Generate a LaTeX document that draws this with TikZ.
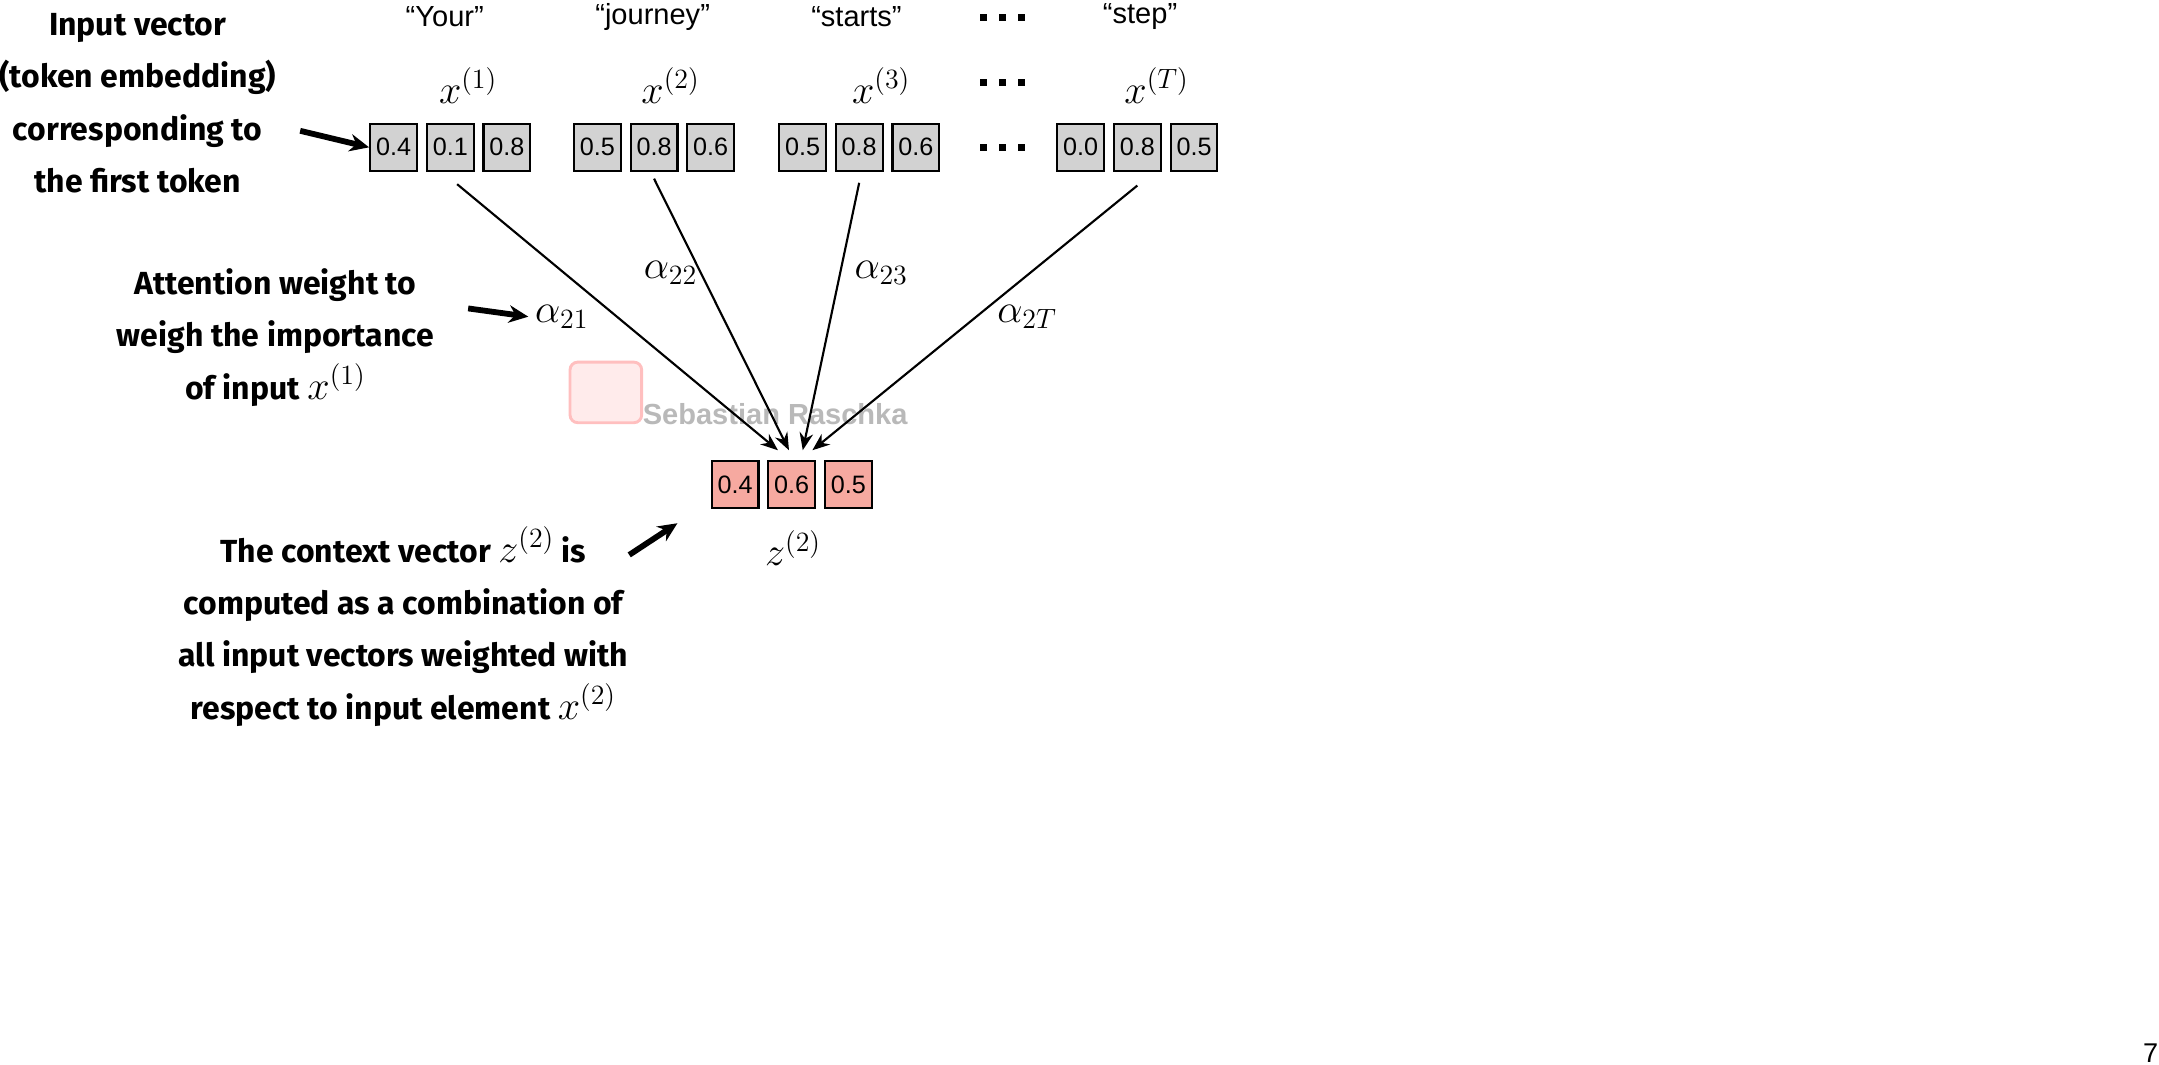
\documentclass[tikz,border=0pt]{standalone}
\usepackage{amsmath}
\usepackage{fontspec}
\setsansfont{Liberation Sans}
\newfontfamily\notefont{Fira Sans}
\usetikzlibrary{positioning}
\definecolor{salmon}{HTML}{F6A9A0}

\tikzset{
  cell/.style={draw, line width=1.1pt, minimum width=0.85cm, minimum height=0.85cm,
    inner sep=0pt, font=\sffamily\fontsize{13}{13}\selectfont},
  incell/.style={cell, fill=gray!35},
  outcell/.style={cell, fill=salmon},
  word/.style={font=\sffamily\fontsize{15}{15}\selectfont},
  vlabel/.style={font=\fontsize{22}{22}\selectfont},
  note/.style={align=center, font=\notefont\bfseries\fontsize{16.5}{27}\selectfont},
  dot/.style={fill, minimum size=0.13cm, inner sep=0pt},
  ptr/.style={-{Stealth[length=9pt,width=7pt]}, line width=1.1pt},
  wptr/.style={-{Stealth[length=10pt,width=9pt]}, line width=3pt}
}
\usetikzlibrary{arrows.meta}

\begin{document}
\begin{tikzpicture}[x=0.025cm, y=-0.025cm]
  \useasboundingbox (0,0) rectangle (1568,773);

  % input vectors
  \foreach \n/\cx/\a/\b/\c in {1/327/0.4/0.1/0.8, 2/475/0.5/0.8/0.6,
                               3/624/0.5/0.8/0.6, 4/826/0.0/0.8/0.5} {
    \node[incell] (v\n b) at (\cx,107) {\b};
    \node[incell, left=0.14cm of v\n b] (v\n a) {\a};
    \node[incell, right=0.14cm of v\n b] (v\n c) {\c};
  }
  \node[word] (w1) at (323,12) {“Your”};
  \node[word] (w2) at (474,12) {“journey”};
  \node[word] (w3) at (622,12) {“starts”};
  \node[word] (w4) at (828,12) {“step”};
  \node[vlabel] (x1) at (340,62) {$x^{(1)}$};
  \node[vlabel] (x2) at (487,62) {$x^{(2)}$};
  \node[vlabel] (x3) at (640,62) {$x^{(3)}$};
  \node[vlabel] (x4) at (840,62) {$x^{(T)}$};
  \foreach \y in {13,60,107}
    \foreach \dx in {-14,0,14}
      \node[dot] at (728+\dx,\y) {};

  % watermark
  \node[draw=red!25, fill=red!8, line width=1.5pt, rounded corners=4pt,
        minimum width=1.3cm, minimum height=1.1cm] (logo) at (440,285) {};
  \node[text=gray!55, font=\sffamily\bfseries\fontsize{15}{15}\selectfont] (wm) at (563,301) {Sebastian Raschka};

  % context vector
  \node[outcell] (z2) at (575,352) {0.6};
  \node[outcell, left=0.14cm of z2] (z1) {0.4};
  \node[outcell, right=0.14cm of z2] (z3) {0.5};
  \node[vlabel] (zl) at (576,398) {$z^{(2)}$};
  \coordinate (t1) at (565,327);
  \coordinate (t2) at (573,327);
  \coordinate (t3) at (583,327);
  \coordinate (t4) at (590,327);

  % weights
  \draw[ptr] (v1b.south) ++(5,9) -- (t1);
  \draw[ptr] (v2b.south) ++(0,5) -- (t2);
  \draw[ptr] (v3b.south) ++(0,8) -- (t3);
  \draw[ptr] (v4b.south) ++(0,10) -- (t4);
  \node[vlabel] (a1) at (408,230) {$\alpha_{21}$};
  \node[vlabel] (a2) at (487,198) {$\alpha_{22}$};
  \node[vlabel] (a3) at (640,198) {$\alpha_{23}$};
  \node[vlabel] (a4) at (746,230) {$\alpha_{2T}$};

  % notes
  \node[note] (n1) at (100,75) {Input vector\\(token embedding)\\corresponding to\\the first token};
  \coordinate (n1e) at (218,95);
  \draw[wptr] (n1e) -- (v1a.west);
  \node[note] (n2) at (200,245) {Attention weight to\\weigh the importance\\of input {\normalfont\fontsize{22}{22}\selectfont$x^{(1)}$}};
  \coordinate (n2e) at (340,224);
  \draw[wptr] (n2e) -- (a1.west);
  \node[note] (n3) at (293,455) {The context vector {\normalfont\fontsize{22}{22}\selectfont$z^{(2)}$} is\\computed as a combination of\\all input vectors weighted with\\respect to input element {\normalfont\fontsize{22}{22}\selectfont$x^{(2)}$}};
  \coordinate (n3e) at (457,403);
  \coordinate (n3t) at (492,380);
  \draw[wptr] (n3e) -- (n3t);

  \node[font=\sffamily\fontsize{14}{14}\selectfont] (pg) at (1562,765) {7};
\end{tikzpicture}
\end{document}
